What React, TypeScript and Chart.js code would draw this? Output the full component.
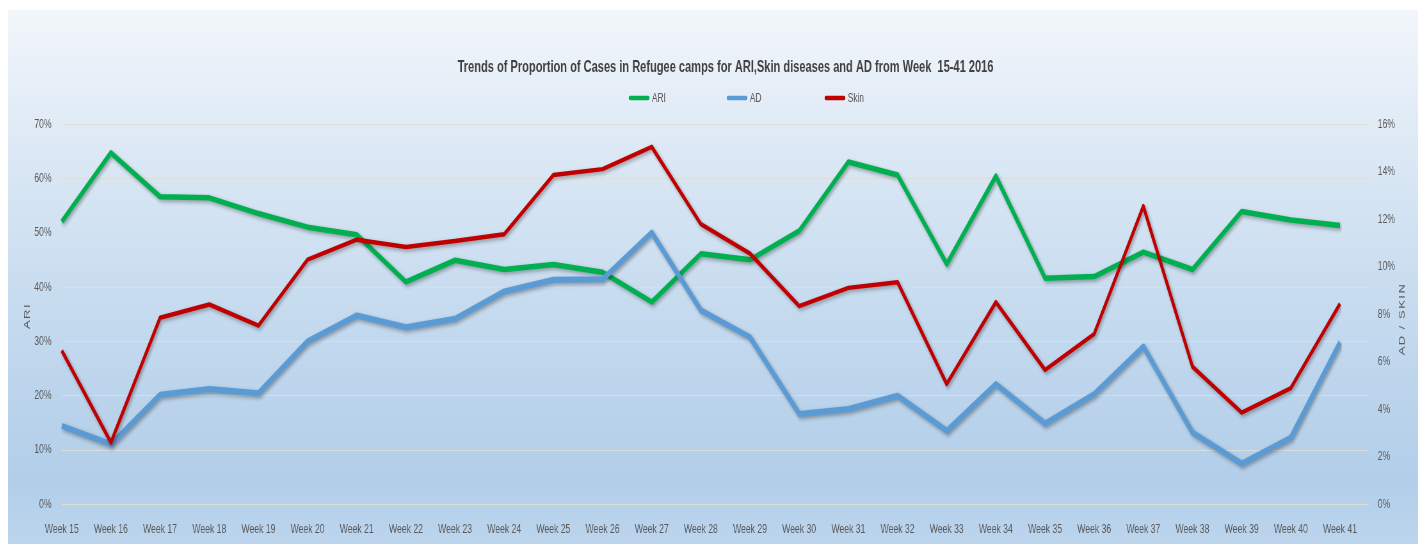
import React, { useEffect, useRef } from "react";
import { Chart, registerables } from "chart.js";

Chart.register(...registerables);

const chartTitle =
  "Trends of Proportion of Cases in Refugee camps for ARI,Skin diseases and AD from Week  15-41 2016";

const weeks = [
  "Week 15", "Week 16", "Week 17", "Week 18", "Week 19", "Week 20", "Week 21",
  "Week 22", "Week 23", "Week 24", "Week 25", "Week 26", "Week 27", "Week 28",
  "Week 29", "Week 30", "Week 31", "Week 32", "Week 33", "Week 34", "Week 35",
  "Week 36", "Week 37", "Week 38", "Week 39", "Week 40", "Week 41",
];

// ARI (left axis, %)
const ariValues = [
  52.0, 64.7, 56.6, 56.4, 53.5, 51.0, 49.6, 40.9, 44.9, 43.2, 44.1, 42.7, 37.2, 46.1,
  45.0, 50.3, 63.0, 60.6, 44.2, 60.4, 41.6, 41.9, 46.4, 43.2, 53.9, 52.3, 51.3,
];

// AD (right axis, %)
const adValues = [
  3.29, 2.52, 4.6, 4.84, 4.66, 6.85, 7.94, 7.44, 7.8, 8.95, 9.44, 9.46, 11.43, 8.15,
  7.02, 3.79, 4.0, 4.56, 3.08, 5.05, 3.39, 4.63, 6.63, 3.01, 1.7, 2.8, 6.81,
];

// Skin (right axis, %)
const skinValues = [
  6.46, 2.59, 7.84, 8.4, 7.51, 10.29, 11.13, 10.82, 11.07, 11.36, 13.85, 14.1, 15.04, 11.78,
  10.54, 8.33, 9.1, 9.34, 5.05, 8.5, 5.64, 7.16, 12.54, 5.78, 3.85, 4.88, 8.43,
];

const leftAxisTicks = [0, 10, 20, 30, 40, 50, 60, 70];
const rightAxisTicks = [0, 2, 4, 6, 8, 10, 12, 14, 16];

const leftAxisTitle = "ARI";
const rightAxisTitle = "AD / SKIN";

// The reference picture is horizontally condensed: the chart is laid out on a
// wider canvas and displayed at the card's width.
const DISPLAY_W = 1412;
const LOGICAL_W = 2206;
const CANVAS_H = 534;

const SANS = "'Liberation Sans', Arial, sans-serif";
const TEXT_COLOR = "#595959";
const CLEAR = "rgba(0,0,0,0)";

const extendedGridPlugin = {
  id: "extendedGrid",
  beforeDatasetsDraw(chart: any) {
    const { ctx, chartArea, scales } = chart;
    const y = scales.y;
    ctx.save();
    ctx.strokeStyle = "rgba(222,222,218,0.95)";
    ctx.lineWidth = 1.2;
    y.ticks.forEach((t: any) => {
      const py = Math.round(y.getPixelForValue(t.value)) + 0.5;
      ctx.beginPath();
      ctx.moveTo(chartArea.left, py);
      ctx.lineTo(chartArea.right + 45, py);
      ctx.stroke();
    });
    ctx.restore();
  },
};

const shadowPlugin = {
  id: "lineShadow",
  beforeDatasetDraw(chart: any) {
    const ctx = chart.ctx;
    ctx.save();
    ctx.shadowColor = "rgba(0,0,0,0.35)";
    ctx.shadowBlur = 4;
    ctx.shadowOffsetX = 2;
    ctx.shadowOffsetY = 2;
  },
  afterDatasetDraw(chart: any) {
    chart.ctx.restore();
  },
};

const textPlugin = {
  id: "chartTexts",
  afterDraw(chart: any) {
    const { ctx, chartArea } = chart;
    ctx.save();
    // title
    ctx.fillStyle = "#404040";
    ctx.font = `bold 17.3px ${SANS}`;
    ctx.textAlign = "center";
    ctx.textBaseline = "middle";
    ctx.fillText(chartTitle, 1121, 57);

    // legend
    const datasets = chart.data.datasets;
    ctx.font = `13px ${SANS}`;
    ctx.textAlign = "left";
    datasets.forEach((ds: any, i: number) => {
      const x = 969 + i * 153;
      const yy = 88;
      ctx.strokeStyle = ds.borderColor;
      ctx.lineWidth = 4.5;
      ctx.lineCap = "round";
      ctx.beginPath();
      ctx.moveTo(x + 3, yy);
      ctx.lineTo(x + 31, yy);
      ctx.stroke();
      ctx.fillStyle = TEXT_COLOR;
      ctx.fillText(ds.label, x + 37, yy);
    });

    // axis titles (both read bottom-to-top)
    ctx.font = `13px ${SANS}`;
    ctx.fillStyle = TEXT_COLOR;
    ctx.textAlign = "center";
    try {
      (ctx as any).letterSpacing = "1.5px";
    } catch (e) {}
    const midY = (chartArea.top + chartArea.bottom) / 2 + 2;
    ctx.save();
    ctx.translate(30, midY);
    ctx.rotate(-Math.PI / 2);
    ctx.fillText(leftAxisTitle, 0, 0);
    ctx.restore();
    ctx.save();
    ctx.translate(2178, midY + 3);
    ctx.rotate(-Math.PI / 2);
    ctx.fillText(rightAxisTitle, 0, 0);
    ctx.restore();
    ctx.restore();
  },
};

export default function App() {
  const canvasRef = useRef<HTMLCanvasElement | null>(null);

  useEffect(() => {
    if (!canvasRef.current) return;
    const tickFont = { family: SANS, size: 13.5 };
    const chart = new Chart(canvasRef.current, {
      type: "line",
      data: {
        labels: weeks,
        datasets: [
          {
            label: "ARI",
            data: ariValues,
            yAxisID: "y",
            borderColor: "#00B050",
            backgroundColor: "#00B050",
            borderWidth: 5.5,
            pointRadius: 0,
            tension: 0,
            borderJoinStyle: "round",
            order: 3,
          },
          {
            label: "AD",
            data: adValues,
            yAxisID: "y1",
            borderColor: "#5B9BD5",
            backgroundColor: "#5B9BD5",
            borderWidth: 6,
            pointRadius: 0,
            tension: 0,
            borderJoinStyle: "round",
            order: 2,
          },
          {
            label: "Skin",
            data: skinValues,
            yAxisID: "y1",
            borderColor: "#C00000",
            backgroundColor: "#C00000",
            borderWidth: 4.5,
            pointRadius: 0,
            tension: 0,
            borderJoinStyle: "round",
            order: 1,
          },
        ],
      },
      options: {
        animation: false,
        responsive: false,
        maintainAspectRatio: false,
        layout: { padding: { top: 114, left: 0, right: 0, bottom: 0 } },
        plugins: {
          legend: { display: false },
          title: { display: false },
          tooltip: { enabled: false },
        },
        scales: {
          x: {
            offset: false,
            grid: { display: false, drawTicks: false },
            border: { display: false },
            ticks: {
              color: TEXT_COLOR,
              font: tickFont,
              padding: 17,
              maxRotation: 0,
              minRotation: 0,
              autoSkip: false,
            },
            afterFit: (s: any) => {
              s.height = 40;
            },
          },
          y: {
            position: "left",
            min: leftAxisTicks[0],
            max: leftAxisTicks[leftAxisTicks.length - 1],
            grid: {
              display: true,
              drawOnChartArea: false,
              drawTicks: true,
              tickLength: 8,
              tickColor: CLEAR,
              color: CLEAR,
            },
            border: { display: false },
            afterBuildTicks: (s: any) => {
              s.ticks = leftAxisTicks.map((v) => ({ value: v }));
            },
            ticks: {
              color: TEXT_COLOR,
              font: tickFont,
              padding: 8,
              callback: (v: any) => `${v}%`,
            },
            afterFit: (s: any) => {
              s.width = 84;
            },
          },
          y1: {
            position: "right",
            min: rightAxisTicks[0],
            max: rightAxisTicks[rightAxisTicks.length - 1],
            grid: {
              display: true,
              drawOnChartArea: false,
              drawTicks: true,
              tickLength: 50,
              tickColor: CLEAR,
              color: CLEAR,
            },
            border: { display: false },
            afterBuildTicks: (s: any) => {
              s.ticks = rightAxisTicks.map((v) => ({ value: v }));
            },
            ticks: {
              color: TEXT_COLOR,
              font: tickFont,
              padding: 9,
              callback: (v: any) => `${v}%`,
            },
            afterFit: (s: any) => {
              s.width = 125;
            },
          },
        },
      },
      plugins: [extendedGridPlugin, shadowPlugin, textPlugin],
    } as any);
    return () => chart.destroy();
  }, []);

  return (
    <div style={{ paddingTop: 2 }}>
      <div
        style={{
          width: DISPLAY_W,
          height: CANVAS_H,
          background:
            "linear-gradient(to bottom, #f2f6fb 0%, #dde9f5 25%, #c3d9ee 60%, #b2cee9 88%, #bcd5ed 100%)",
        }}
      >
        <canvas
          ref={canvasRef}
          width={LOGICAL_W}
          height={CANVAS_H}
          style={{ display: "block", width: DISPLAY_W, height: CANVAS_H }}
        />
      </div>
    </div>
  );
}
